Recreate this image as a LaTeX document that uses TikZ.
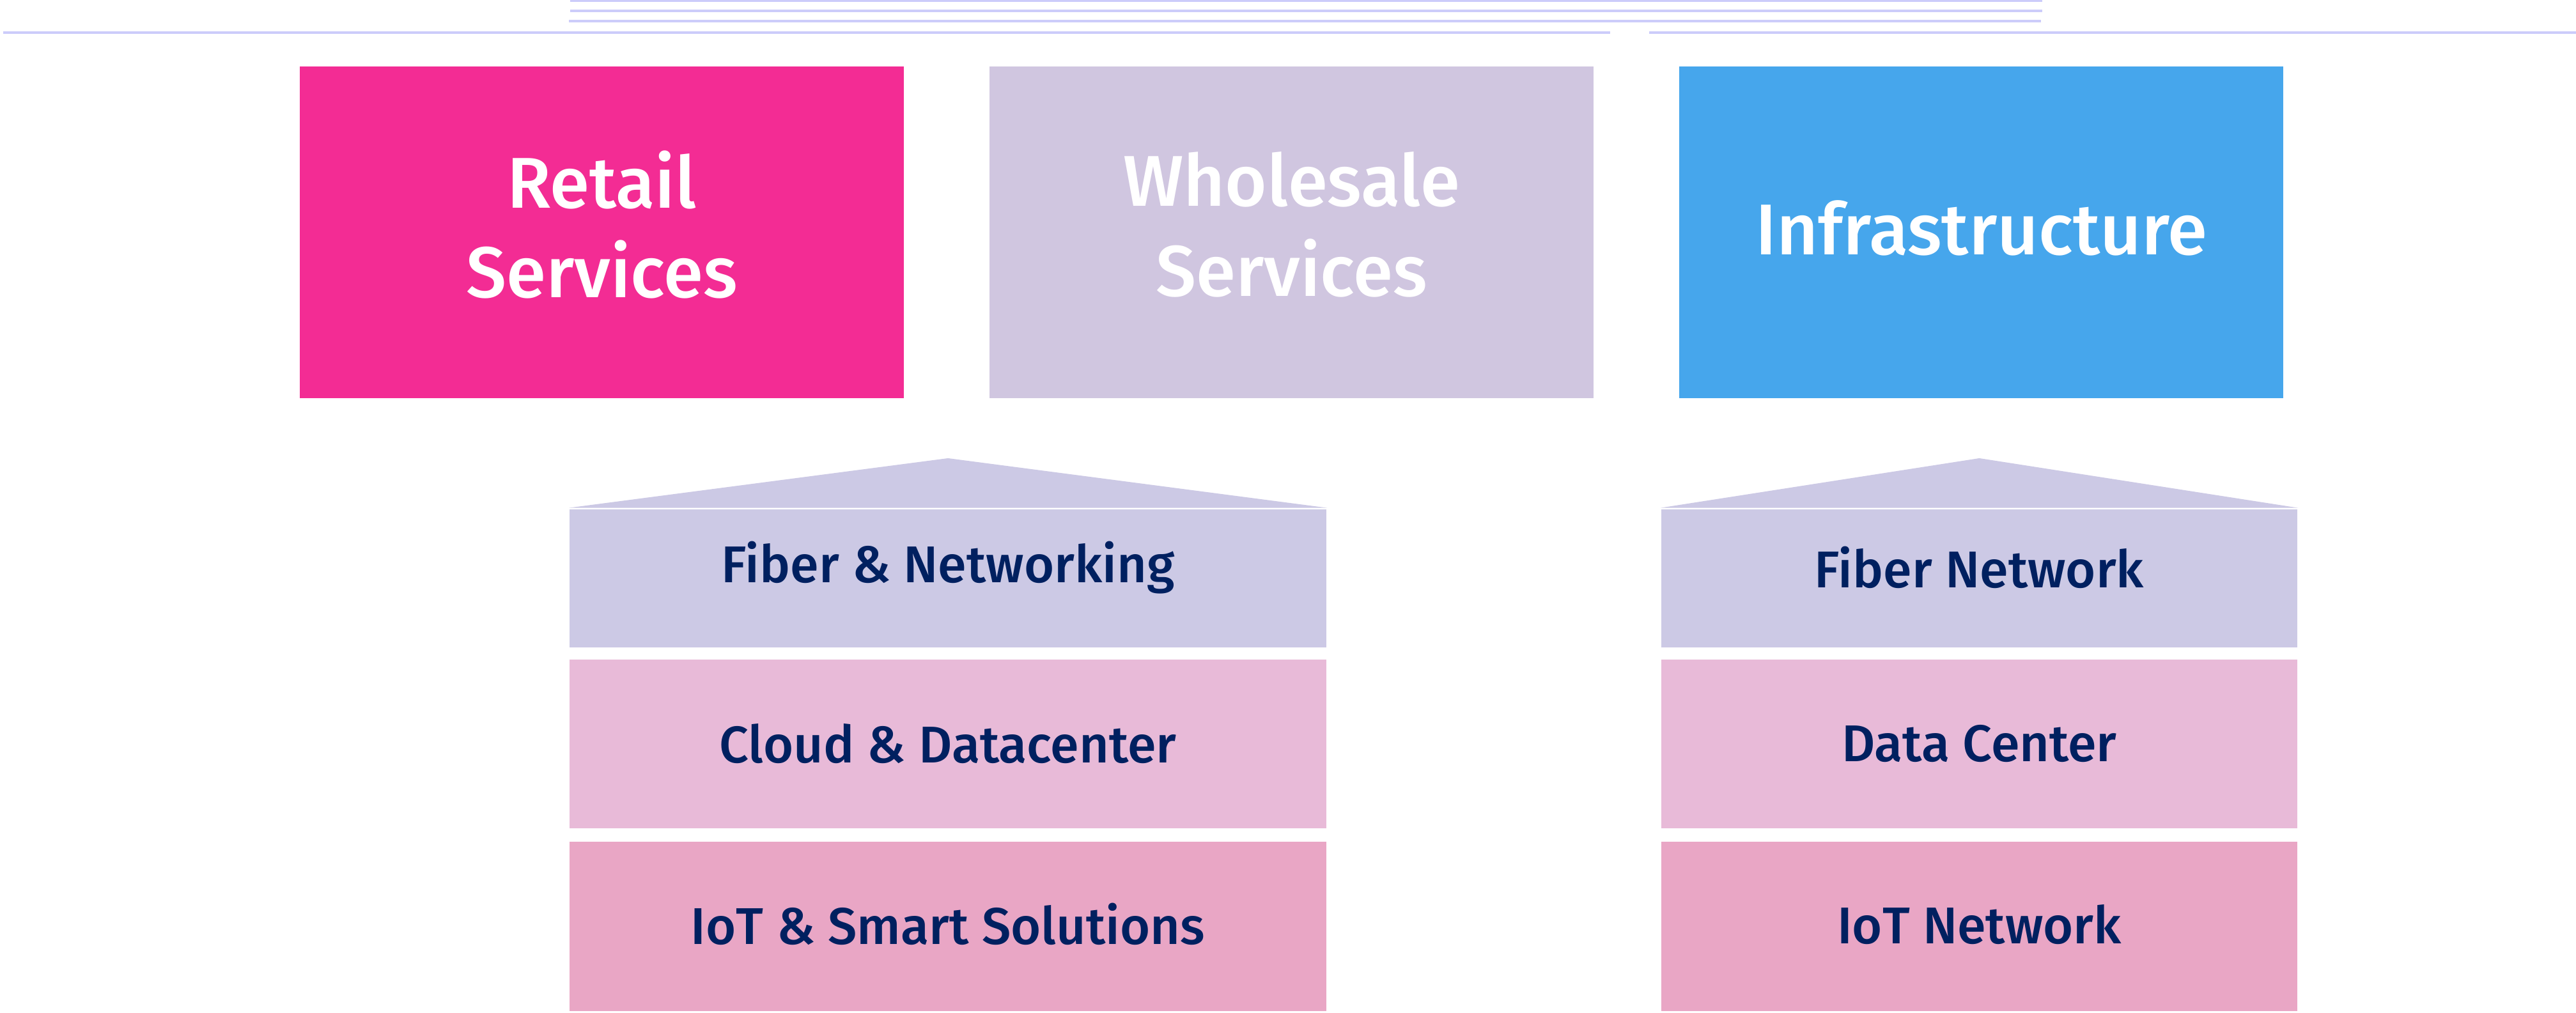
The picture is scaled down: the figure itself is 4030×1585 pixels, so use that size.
\documentclass[tikz,border=0pt]{standalone}
\usepackage{fontspec}
\setmainfont{Fira Sans}
\newfontfamily\labelfont{Fira Sans Medium}

\definecolor{retailpink}{RGB}{243,44,148}
\definecolor{wholelilac}{RGB}{208,198,224}
\definecolor{infrablue}{RGB}{70,166,236}
\definecolor{fiberlilac}{RGB}{204,201,229}
\definecolor{cloudpink}{RGB}{232,186,216}
\definecolor{iotpink}{RGB}{233,166,197}
\definecolor{navytext}{RGB}{0,32,96}
\definecolor{rulelilac}{RGB}{204,204,250}

\begin{document}
\begin{tikzpicture}[x=0.01cm,y=-0.01cm,
    topbox/.style={fill=#1,anchor=north west,inner sep=0pt,
      minimum width=9.45cm,minimum height=5.19cm},
    toptxt/.style={text=white,inner sep=0pt,align=center,
      font=\labelfont\fontsize{32}{40}\selectfont},
    layer/.style={fill=#1,anchor=north west,inner sep=0pt},
    lbl/.style={text=navytext,inner sep=0pt,font=\labelfont\fontsize{23}{28}\selectfont},
    rule/.style={draw=rulelilac,line width=0.035cm}]
  \useasboundingbox (0,0) rectangle (4030,1585);

  % rules at the top
  \draw[rule] (892,1.5) -- (3195,1.5);
  \draw[rule] (892,17) -- (3195,17);
  \draw[rule] (890,33) -- (3193,33);
  \draw[rule] (5,51) -- (2519,51);
  \draw[rule] (2580,51) -- (4030,51);

  % business units
  \node[topbox=retailpink] (retail) at (468,103) {};
  \node[topbox=wholelilac] (wholesale) at (1547,103) {};
  \node[topbox=infrablue] (infra) at (2626,103) {};
  \node[toptxt] (retailtxt) at ([yshift=0.12cm]retail.center) {Retail\\Services};
  \node[toptxt] (wholesaletxt) at ([yshift=0.12cm]wholesale.center) {Wholesale\\Services};
  \node[toptxt] (infratxt) at ([yshift=0.06cm]infra.center) {Infrastructure};

  % wholesale stack
  \begin{scope}[minimum width=11.84cm]
    \node[layer=fiberlilac,minimum height=2.16cm] (fibL) at (890,796) {};
    \node[layer=cloudpink,minimum height=2.64cm] (cloudL) at (890,1031) {};
    \node[layer=iotpink,minimum height=2.65cm] (iotL) at (890,1316) {};
  \end{scope}
  \fill[fiberlilac] ([yshift=0.4pt]fibL.north west) -- ([yshift=0.79cm]fibL.north)
    -- ([yshift=0.4pt]fibL.north east) -- cycle;
  \node[lbl] (fibLtxt) at ([yshift=0.17cm]fibL.center) {Fiber \& Networking};
  \node[lbl] (cloudLtxt) at (cloudL.center) {Cloud \& Datacenter};
  \node[lbl] (iotLtxt) at ([yshift=0.03cm]iotL.center) {IoT \& Smart Solutions};

  % infrastructure stack
  \begin{scope}[minimum width=9.95cm]
    \node[layer=fiberlilac,minimum height=2.16cm] (fibR) at (2598,796) {};
    \node[layer=cloudpink,minimum height=2.64cm] (dcR) at (2598,1031) {};
    \node[layer=iotpink,minimum height=2.65cm] (iotR) at (2598,1316) {};
  \end{scope}
  \fill[fiberlilac] ([yshift=0.4pt]fibR.north west) -- ([yshift=0.79cm]fibR.north)
    -- ([yshift=0.4pt]fibR.north east) -- cycle;
  \node[lbl] (fibRtxt) at ([yshift=0.17cm]fibR.center) {Fiber Network};
  \node[lbl] (dcRtxt) at (dcR.center) {Data Center};
  \node[lbl] (iotRtxt) at ([yshift=0.03cm]iotR.center) {IoT Network};
\end{tikzpicture}
\end{document}
